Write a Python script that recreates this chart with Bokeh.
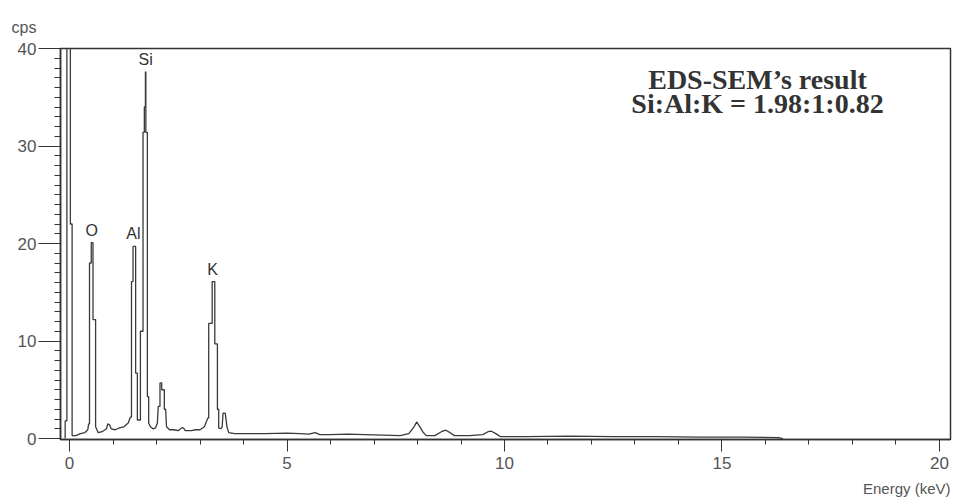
from bokeh.plotting import figure
from bokeh.models import Range1d, Label, FixedTicker, ColumnDataSource, Title
from bokeh.core.properties import value
from bokeh.embed import file_html
from bokeh.resources import INLINE

# EDS spectrum (energy in keV, intensity in cps)
energy = [-0.10, -0.10, -0.06, -0.06, 0.02, 0.02, 0.06, 0.06, 0.15, 0.25, 0.35, 0.42,
          0.44, 0.46, 0.46, 0.50, 0.50, 0.54, 0.54, 0.60, 0.60, 0.66, 0.75, 0.85, 0.88,
          0.92, 0.96, 1.05, 1.15, 1.25, 1.35, 1.40, 1.425, 1.425, 1.46, 1.46, 1.52, 1.52,
          1.56, 1.56, 1.63, 1.63, 1.69, 1.69, 1.72, 1.72, 1.745, 1.745, 1.755, 1.755,
          1.79, 1.79, 1.82, 1.82, 1.86, 1.92, 1.98, 2.02, 2.04, 2.08, 2.08, 2.12, 2.12,
          2.18, 2.18, 2.21, 2.23, 2.30, 2.40, 2.50, 2.58, 2.62, 2.66, 2.80, 2.90, 3.00,
          3.10, 3.18, 3.20, 3.20, 3.28, 3.28, 3.31, 3.34, 3.34, 3.40, 3.40, 3.43, 3.43,
          3.48, 3.51, 3.53, 3.58, 3.62, 3.66, 3.80, 4.00, 4.50, 5.00, 5.30, 5.50, 5.65,
          5.75, 6.00, 6.40, 6.80, 7.20, 7.60, 7.80, 7.92, 7.98, 8.04, 8.12, 8.20, 8.40,
          8.55, 8.65, 8.75, 8.85, 9.20, 9.50, 9.62, 9.70, 9.80, 9.90, 10.50, 11.50,
          12.50, 13.50, 14.50, 15.50, 16.30, 16.40]
cps = [0.0, 1.8, 1.8, 120.0, 120.0, 22.0, 22.0, 0.3, 0.3, 0.5, 0.6, 0.9,
       1.5, 1.5, 18.0, 18.0, 20.1, 20.1, 12.2, 12.2, 1.2, 0.6, 0.7, 1.0, 1.5,
       1.4, 1.0, 0.9, 1.1, 1.2, 1.6, 2.2, 2.2, 16.1, 16.1, 19.7, 19.7, 6.7,
       6.7, 1.9, 1.9, 11.0, 11.0, 31.4, 31.4, 34.0, 34.0, 37.6, 37.6, 31.4,
       31.4, 4.3, 4.3, 1.6, 1.2, 1.0, 1.1, 1.6, 3.3, 3.3, 5.7, 5.7, 5.0,
       5.0, 3.0, 3.0, 1.2, 0.9, 0.9, 0.8, 1.1, 1.1, 0.8, 0.8, 0.9, 0.9,
       1.2, 2.1, 2.1, 11.8, 11.8, 16.1, 16.1, 16.1, 9.7, 9.7, 3.0, 3.0, 1.1,
       1.0, 1.2, 2.6, 2.6, 1.2, 0.6, 0.5, 0.5, 0.5, 0.55, 0.5, 0.45, 0.6,
       0.4, 0.4, 0.45, 0.4, 0.35, 0.3, 0.5, 1.2, 1.7, 1.3, 0.7, 0.3, 0.3,
       0.7, 0.85, 0.6, 0.3, 0.3, 0.4, 0.7, 0.75, 0.5, 0.2, 0.2, 0.25,
       0.2, 0.2, 0.15, 0.15, 0.1, 0.0]

# peak annotations
peak_names = ["O", "Al", "Si", "K"]
peak_energy = [0.51, 1.47, 1.75, 3.29]
peak_cps = [20.1, 19.7, 37.6, 16.1]

x_ticks = [0, 5, 10, 15, 20]
y_ticks = [0, 10, 20, 30, 40]

title_lines = ["EDS-SEM\u2019s result", "Si:Al:K = 1.98:1:0.82"]

p = figure(width=952, height=503, output_backend="svg", toolbar_location=None,
           x_range=Range1d(-0.207, 20.253), y_range=Range1d(-0.1, 40),
           min_border_left=60, min_border_right=2, min_border_top=48,
           min_border_bottom=63, background_fill_color="white",
           border_fill_color="white")
p.grid.visible = False
p.outline_line_color = "#333333"
p.outline_line_width = 1.5

p.title.text = "cps"
p.title.align = "left"
p.title.offset = -49
p.title.standoff = 25
p.title.text_font = "Liberation Sans"
p.title.text_font_style = "normal"
p.title.text_font_size = "16px"
p.title.text_color = "#555555"

p.line(energy, cps, line_color="#3a3a3a", line_width=1.3)

src = ColumnDataSource(dict(x=peak_energy, y=peak_cps, text=peak_names))
p.text(x="x", y="y", text="text", source=src, text_align="center",
       text_baseline="bottom", y_offset=-4, text_font=value("Liberation Sans"),
       text_font_size="16px", text_color="#333333")

for ax in (p.xaxis[0], p.yaxis[0]):
    ax.axis_line_color = "#333333"
    ax.axis_line_width = 1.5
    ax.major_tick_line_color = "#333333"
    ax.minor_tick_line_color = "#333333"
    ax.major_tick_in = 0
    ax.minor_tick_in = 0
    ax.major_label_text_font = "Liberation Sans"
    ax.major_label_text_font_size = "17px"
    ax.major_label_text_color = "#555555"

p.xaxis.ticker = FixedTicker(ticks=x_ticks, minor_ticks=list(range(0, 21)))
p.xaxis.major_tick_out = 12
p.xaxis.minor_tick_out = 5
p.xaxis.major_label_standoff = 5

p.yaxis.ticker = FixedTicker(ticks=y_ticks, minor_ticks=list(range(0, 41)))
p.yaxis.major_tick_out = 22
p.yaxis.minor_tick_out = 6
p.yaxis.major_label_standoff = 2

for i, t in enumerate(title_lines):
    p.add_layout(Label(x=697, y=360 - i * 24, x_units="screen", y_units="screen",
                       text=t, text_align="center", text_baseline="alphabetic",
                       text_font="Liberation Serif", text_font_style="bold",
                       text_font_size="28px", text_color="#333333"))

p.add_layout(Title(text="Energy (keV)", align="right", standoff=13,
                   text_font="Liberation Sans", text_font_style="normal",
                   text_font_size="15px", text_color="#555555"), "below")

open("out.html", "w").write(file_html(p, INLINE))
